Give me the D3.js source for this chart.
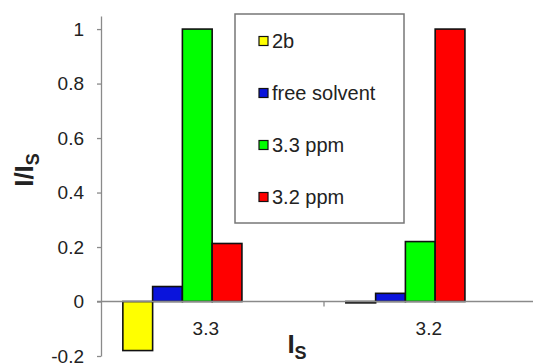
<!DOCTYPE html>
<html>
<head>
<meta charset="utf-8">
<script src="https://cdn.jsdelivr.net/npm/d3@7/dist/d3.min.js"></script>
<style>
  body { margin: 0; background: #fff; }
  svg { display: block; font-family: "Liberation Sans", Arial, sans-serif; }
</style>
</head>
<body>
<div id="chart"></div>
<script>
// data
var categories = ["3.3", "3.2"];
var seriesNames = ["2b", "free solvent", "3.3 ppm", "3.2 ppm"];
var seriesColors = ["#ffff00", "#0a14dc", "#00ff00", "#ff0000"];
var values2b = [-0.18, -0.005];
var valuesFree = [0.055, 0.03];
var values33 = [1.0, 0.22];
var values32 = [0.213, 1.0];
var yTicks = [-0.2, 0, 0.2, 0.4, 0.6, 0.8, 1];

var allSeries = [values2b, valuesFree, values33, values32];

var width = 533, height = 364;
var axisX = 101;

var svg = d3.select("#chart")
    .append("svg")
    .attr("width", width)
    .attr("height", height);

// scales
var y = d3.scaleLinear().domain([-0.2, 1.048]).range([356, 16]);
var x0 = d3.scaleBand().domain(categories).range([axisX, axisX + 2 * 223]);
var bw = x0.bandwidth();
var x1 = d3.scaleBand().domain(seriesNames).range([bw * 0.098, bw * 0.632]);

var textColor = "#222";
var axisColor = "#8a8a8a";

// bars
var barData = [];
categories.forEach(function(c, i) {
    seriesNames.forEach(function(s, j) {
        barData.push({ cat: c, series: s, value: allSeries[j][i], color: seriesColors[j] });
    });
});

svg.selectAll(".bar")
    .data(barData)
    .enter().append("rect")
    .attr("class", "bar")
    .attr("x", function(d) { return x0(d.cat) + x1(d.series); })
    .attr("width", x1.bandwidth())
    .attr("y", function(d) { return y(Math.max(0, d.value)); })
    .attr("height", function(d) { return Math.abs(y(d.value) - y(0)); })
    .attr("fill", function(d) { return d.color; })
    .attr("stroke", "#111")
    .attr("stroke-width", 1.6);

// zero line (category axis)
svg.append("line")
    .attr("x1", axisX - 4).attr("x2", width)
    .attr("y1", y(0)).attr("y2", y(0))
    .attr("stroke", axisColor).attr("stroke-width", 1.3);

// tick between categories
svg.append("line")
    .attr("x1", x0("3.2")).attr("x2", x0("3.2"))
    .attr("y1", y(0)).attr("y2", y(0) + 5)
    .attr("stroke", axisColor).attr("stroke-width", 1.3);

// category labels
svg.selectAll(".cat")
    .data(categories)
    .enter().append("text")
    .attr("class", "cat")
    .attr("x", function(d) { return x0(d) + bw * 0.47; })
    .attr("y", 335)
    .attr("text-anchor", "middle")
    .style("font-size", "19px")
    .attr("fill", textColor)
    .text(function(d) { return d; });

// y axis
var yAxis = svg.append("g")
    .attr("transform", "translate(" + axisX + ",0)")
    .call(d3.axisLeft(y).tickValues(yTicks).tickSize(4).tickSizeOuter(0)
        .tickFormat(function(d) { return String(+d.toFixed(1)); }));
yAxis.select(".domain").attr("stroke", axisColor).attr("stroke-width", 1.3);
yAxis.selectAll(".tick line").attr("stroke", axisColor).attr("stroke-width", 1.3);
yAxis.selectAll(".tick text")
    .attr("x", -17)
    .attr("fill", textColor)
    .style("font-size", "19px")
    .style("font-family", "'Liberation Sans', Arial, sans-serif");

// axis titles
var yTitle = svg.append("text")
    .attr("transform", "translate(33,170) rotate(-90)")
    .attr("text-anchor", "middle")
    .style("font-size", "26px")
    .style("font-weight", "bold")
    .attr("fill", textColor);
yTitle.append("tspan").text("I/I");
yTitle.append("tspan").attr("dy", 6).style("font-size", "18px").text("S");

var xTitle = svg.append("text")
    .attr("x", 297)
    .attr("y", 353)
    .attr("text-anchor", "middle")
    .style("font-size", "26px")
    .style("font-weight", "bold")
    .attr("fill", textColor);
xTitle.append("tspan").text("I");
xTitle.append("tspan").attr("dy", 6).style("font-size", "18px").text("S");

// legend
var legend = svg.append("g");
legend.append("rect")
    .attr("x", 235).attr("y", 14)
    .attr("width", 169).attr("height", 209)
    .attr("fill", "#fff")
    .attr("stroke", "#777")
    .attr("stroke-width", 1.5);

var legendY = d3.scalePoint().domain(seriesNames).range([41, 197]);

var items = legend.selectAll(".item")
    .data(seriesNames)
    .enter().append("g")
    .attr("class", "item")
    .attr("transform", function(d) { return "translate(259," + legendY(d) + ")"; });

items.append("rect")
    .attr("x", 0).attr("y", -4.5)
    .attr("width", 9).attr("height", 9)
    .attr("fill", function(d, i) { return seriesColors[i]; })
    .attr("stroke", "#111")
    .attr("stroke-width", 1.2);

items.append("text")
    .attr("x", 13)
    .attr("dy", "0.35em")
    .style("font-size", "20px")
    .attr("fill", textColor)
    .text(function(d) { return d; });
</script>
</body>
</html>
